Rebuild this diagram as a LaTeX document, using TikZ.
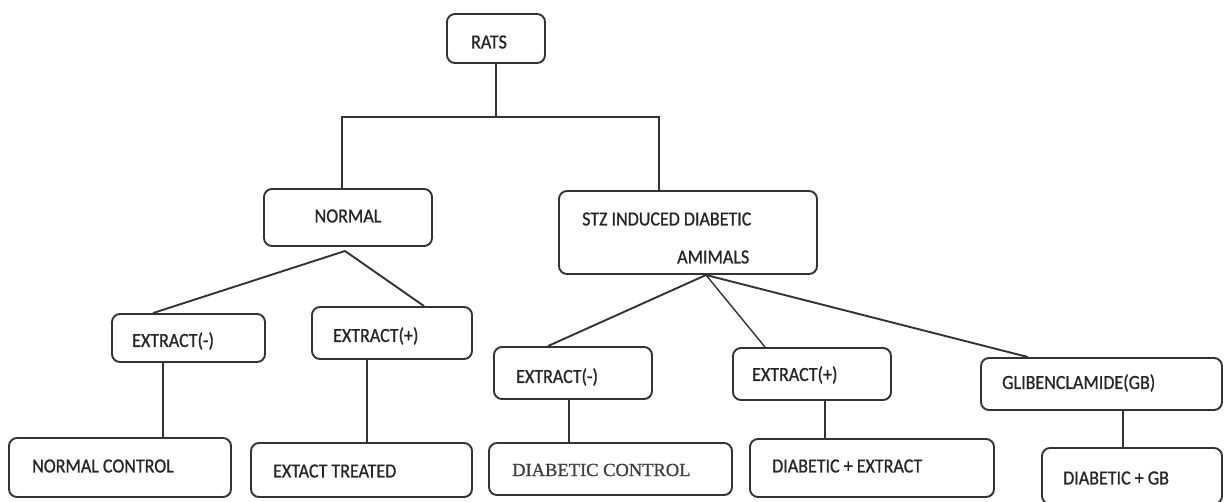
\documentclass[tikz,border=0pt]{standalone}
\usepackage{fontspec}
\setmainfont{Carlito}[FakeBold=0.9,FakeStretch=0.9]
\newfontfamily\serifdc{Liberation Serif}[FakeBold=0.9]
\begin{document}
\begin{tikzpicture}[x=1pt,y=-1pt,
  box/.style={draw=black!80,line width=1.9pt,rounded corners=8pt,inner sep=0pt},
  lbl/.style={anchor=west,inner sep=0pt,font=\fontsize{20}{22}\selectfont,text=black!85},
  conn/.style={draw=black!80,line width=1.9pt}]
\useasboundingbox (0,0) rectangle (1225,501);
% boxes (x1,y1)-(x2,y2)
\newcommand{\bx}[5]{\node[box,minimum width=#4-#2,minimum height=#5-#3] (#1) at ({(#2+#4)/2},{(#3+#5)/2}) {};}
\bx{rats}{447}{14}{545}{63}
\bx{normal}{264}{189}{432}{246}
\bx{stz}{559}{191}{817}{274}
\bx{exl1}{112}{314}{265}{362}
\bx{exl2}{312}{307}{472}{359}
\bx{exr1}{494}{347}{652}{399}
\bx{exr2}{733}{348}{891}{400}
\bx{gb}{981}{358}{1222}{410}
\bx{nc}{9}{438}{231}{497}
\bx{et}{251}{443}{472}{497}
\bx{dc}{489}{443}{732}{495}
\bx{de}{750}{439}{994}{497}
\bx{dg}{1042}{448}{1222}{504}
% labels
\node[lbl,anchor=center] (trats) at (489,42) {RATS};
\node[lbl,anchor=center] (tnormal) at (348,216) {NORMAL};
\node[lbl] (tstz1) at (582,219) {STZ INDUCED DIABETIC};
\node[lbl] (tstz2) at (677,257) {AMIMALS};
\node[lbl] (texl1) at (132,341) {EXTRACT(-)};
\node[lbl] (texl2) at (333,336) {EXTRACT(+)};
\node[lbl] (texr1) at (516,377) {EXTRACT(-)};
\node[lbl] (texr2) at (752,375) {EXTRACT(+)};
\node[lbl] (tgb) at (1002,383) {GLIBENCLAMIDE(GB)};
\node[lbl] (tnc) at (32,466) {NORMAL CONTROL};
\node[lbl] (tet) at (273,471) {EXTACT TREATED};
\node[lbl,font=\serifdc\fontsize{18.5}{20}\selectfont,text=black!75] (tdc) at (512,470) {DIABETIC CONTROL};
\node[lbl] (tde) at (772,466) {DIABETIC + EXTRACT};
\node[lbl] (tdg) at (1063,478) {DIABETIC + GB};
% connectors
\coordinate (busL) at (342,117);
\coordinate (busR) at (659,117);
\coordinate (napex) at (345,251);
\coordinate (sapex) at (706,275);
\draw[conn] (rats.south) -- (rats.south |- busL);
\draw[conn] (normal.north -| busL) -- (busL) -- (busR) -- (stz.north -| busR);
\draw[conn] (napex) -- (exl1.north -| 153,0);
\draw[conn] (napex) -- (exl2.north -| 424,0);
\draw[conn] (sapex) -- (exr1.north -| 548,0);
\draw[conn,line width=1.4pt] (sapex) -- (exr2.north -| 765,0);
\draw[conn] (sapex) -- (gb.north -| 1028,0);
\draw[conn] (exl1.south -| 163,0) -- (nc.north -| 163,0);
\draw[conn] (exl2.south -| 367,0) -- (et.north -| 367,0);
\draw[conn] (exr1.south -| 569,0) -- (dc.north -| 569,0);
\draw[conn] (exr2.south -| 825,0) -- (de.north -| 825,0);
\draw[conn] (gb.south -| 1123,0) -- (dg.north -| 1123,0);
\end{tikzpicture}
\end{document}
